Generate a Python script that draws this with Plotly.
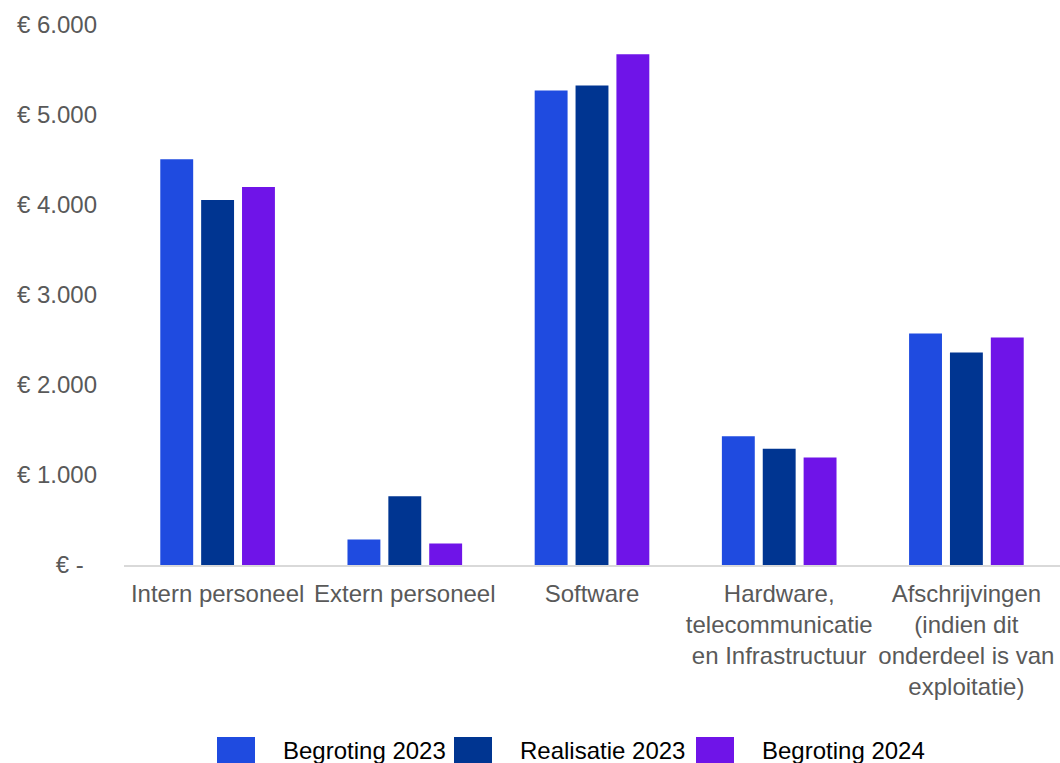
import plotly.graph_objects as go

categories = [
    "Intern personeel",
    "Extern personeel",
    "Software",
    "Hardware,<br>telecommunicatie<br>en Infrastructuur",
    "Afschrijvingen<br>(indien dit<br>onderdeel is van<br>exploitatie)",
]
series_names = ["Begroting 2023", "Realisatie 2023", "Begroting 2024"]
begroting_2023 = [4508, 283, 5272, 1430, 2572]
realisatie_2023 = [4056, 763, 5328, 1292, 2362]
begroting_2024 = [4200, 238, 5676, 1194, 2528]
series_colors = ["#1F4BE0", "#003591", "#6F14E8"]

tick_values = [0, 1000, 2000, 3000, 4000, 5000, 6000]
tick_labels = ["€ -\u00a0\u00a0", "€ 1.000", "€ 2.000", "€ 3.000", "€ 4.000", "€ 5.000", "€ 6.000"]

W, H = 1060, 763
ML, MR, MT, MB = 124, 0, 25, 198
PW, PH = W - ML - MR, H - MT - MB

def px_x(x):
    return (x - ML) / PW

def px_y(y):
    return (H - MB - y) / PH

FONT = "Liberation Sans, Arial, sans-serif"

fig = go.Figure()
for name, vals, col in zip(series_names, [begroting_2023, realisatie_2023, begroting_2024], series_colors):
    fig.add_trace(go.Bar(
        x=categories, y=vals, name=name,
        marker=dict(color=col, line=dict(width=0)),
        showlegend=False,
    ))

# manual legend (large square swatches like the original)
legend_sq_x = [217, 454, 696]
legend_txt_x = [281, 518, 760]
shapes = []
annotations = []
for name, col, sx, tx in zip(series_names, series_colors, legend_sq_x, legend_txt_x):
    shapes.append(dict(type="rect", xref="paper", yref="paper",
                       x0=px_x(sx), x1=px_x(sx + 38), y0=px_y(737), y1=px_y(764),
                       fillcolor=col, line=dict(width=0)))
    annotations.append(dict(xref="paper", yref="paper", x=px_x(tx), y=px_y(750),
                            xanchor="left", yanchor="middle", showarrow=False,
                            text=name, font=dict(family=FONT, size=24, color="#000000")))

fig.update_layout(
    width=W, height=H,
    margin=dict(l=ML, r=MR, t=MT, b=MB, autoexpand=False),
    paper_bgcolor="white", plot_bgcolor="white",
    barmode="group", bargap=0.345, bargroupgap=0.195,
    font=dict(family=FONT, size=24, color="#595959"),
    shapes=shapes, annotations=annotations,
    showlegend=False,
)
fig.update_xaxes(
    showgrid=False, showline=True, linecolor="#D9D9D9", linewidth=2,
    ticks="", tickfont=dict(family=FONT, size=24, color="#595959"),
    tickangle=0, ticklabelstandoff=6,
)
fig.update_yaxes(
    range=[0, 6000], showgrid=False, zeroline=False, showline=False,
    tickvals=tick_values, ticktext=tick_labels, ticks="",
    ticklabelstandoff=26,
    tickfont=dict(family=FONT, size=24, color="#595959"),
)

fig.write_html(
    "out.html",
    config={"displayModeBar": False},
    post_script="document.body.style.margin='0';document.body.style.overflow='hidden';",
)
